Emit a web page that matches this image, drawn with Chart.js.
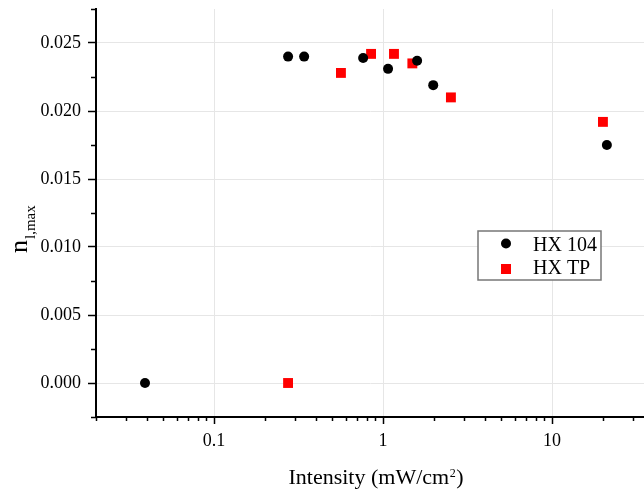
<!DOCTYPE html>
<html><head><meta charset="utf-8">
<script src="https://cdn.jsdelivr.net/npm/chart.js@4"></script>
<style>html,body{margin:0;padding:0;background:#fff;overflow:hidden}#wrap{width:644px;height:489px;position:relative}</style>
</head><body><div id="wrap"><canvas id="c" width="644" height="489"></canvas></div>
<script>
// ---- data ----
const seriesNames = ['HX 104', 'HX TP'];
const hx104X = [0.039, 0.274, 0.341, 0.762, 1.07, 1.59, 1.98, 21.1];
const hx104Y = [0.0000, 0.0240, 0.0240, 0.0239, 0.0231, 0.0237, 0.0219, 0.0175];
const hxtpX = [0.274, 0.563, 0.849, 1.16, 1.49, 2.52, 20.0];
const hxtpY = [0.0000, 0.0228, 0.0242, 0.0242, 0.0235, 0.0210, 0.0192];
const xTickLabels = ['0.1', '1', '10'];
const yTickLabels = ['0.000', '0.005', '0.010', '0.015', '0.020', '0.025'];
const xTitle = ['Intensity (mW/cm', '2', ')'];
const yTitle = ['n', 'l,max'];

const FONT = 'Liberation Serif';
const GRID = '#e6e6e6';

function isXMajor(v) { return xTickLabels.some(l => Math.abs(parseFloat(l) - v) < 1e-9); }
function yLabelFor(v) { return yTickLabels.find(l => Math.abs(parseFloat(l) - v) < 1e-9); }

const toPts = (xs, ys) => xs.map((x, i) => ({ x: x, y: ys[i] }));

const extras = {
  id: 'extras',
  afterDraw(chart) {
    const ctx = chart.ctx;
    const xs = chart.scales.x, ys = chart.scales.y;
    ctx.save();
    // minor tick marks
    ctx.strokeStyle = '#000';
    ctx.lineWidth = 1.5;
    xs.ticks.forEach(t => {
      if (isXMajor(t.value)) return;
      const px = Math.round(xs.getPixelForValue(t.value)) + 0.5;
      ctx.beginPath(); ctx.moveTo(px, xs.top); ctx.lineTo(px, xs.top + 4); ctx.stroke();
    });
    ys.ticks.forEach(t => {
      if (yLabelFor(t.value)) return;
      const py = Math.round(ys.getPixelForValue(t.value)) + 0.5;
      ctx.beginPath(); ctx.moveTo(ys.right, py); ctx.lineTo(ys.right - 5, py); ctx.stroke();
    });
    // legend
    const lx = 478, ly = 231, lw = 123, lh = 49;
    ctx.fillStyle = '#fff';
    ctx.fillRect(lx, ly, lw, lh);
    ctx.strokeStyle = '#777';
    ctx.lineWidth = 1.5;
    ctx.strokeRect(lx, ly, lw, lh);
    ctx.fillStyle = '#000';
    ctx.beginPath(); ctx.arc(506, 243.5, 5, 0, Math.PI * 2); ctx.fill();
    ctx.fillStyle = '#ff0000';
    ctx.fillRect(501, 264, 10, 10);
    ctx.fillStyle = '#000';
    ctx.font = '20px "' + FONT + '"';
    ctx.textAlign = 'left';
    ctx.textBaseline = 'alphabetic';
    ctx.fillText(seriesNames[0], 533, 251);
    ctx.fillText(seriesNames[1], 533, 274);
    // x title
    ctx.font = '22px "' + FONT + '"';
    const w0 = ctx.measureText(xTitle[0]).width;
    ctx.font = '12px "' + FONT + '"';
    const w1 = ctx.measureText(xTitle[1]).width;
    ctx.font = '22px "' + FONT + '"';
    const w2 = ctx.measureText(xTitle[2]).width;
    const tot = w0 + w1 + w2;
    let sx = 375.5 - tot / 2;
    const by = 484;
    ctx.fillText(xTitle[0], sx, by);
    ctx.font = '12px "' + FONT + '"';
    ctx.fillText(xTitle[1], sx + w0 + 0.5, by - 7);
    ctx.font = '22px "' + FONT + '"';
    ctx.fillText(xTitle[2], sx + w0 + w1 + 1, by);
    // y title
    ctx.translate(27, 253);
    ctx.rotate(-Math.PI / 2);
    ctx.font = '26px "' + FONT + '"';
    ctx.fillText(yTitle[0], 0, 0);
    const nw = ctx.measureText(yTitle[0]).width;
    ctx.font = '15px "' + FONT + '"';
    ctx.fillText(yTitle[1], nw + 1, 8);
    ctx.restore();
  }
};

new Chart(document.getElementById('c'), {
  type: 'scatter',
  data: {
    datasets: [
      { label: seriesNames[0], data: toPts(hx104X, hx104Y), pointStyle: 'circle', pointRadius: 5, pointHoverRadius: 5,
        backgroundColor: '#000', borderColor: '#000', borderWidth: 0 },
      { label: seriesNames[1], data: toPts(hxtpX, hxtpY), pointStyle: 'rect', pointRadius: 7, pointHoverRadius: 7,
        backgroundColor: '#ff0000', borderColor: '#ff0000', borderWidth: 0 }
    ]
  },
  options: {
    responsive: false,
    devicePixelRatio: 1,
    animation: false,
    events: [],
    clip: false,
    layout: { autoPadding: false, padding: { top: 9, left: 0, right: 0, bottom: 0 } },
    plugins: { legend: { display: false }, tooltip: { enabled: false } },
    scales: {
      x: {
        type: 'logarithmic',
        min: 0.02, max: 35,
        afterBuildTicks(scale) {
          const t = [];
          [0.01, 0.1, 1, 10].forEach(d => {
            for (let k = 1; k <= 9; k++) {
              const v = parseFloat((k * d).toPrecision(6));
              if (v >= scale.min - 1e-12 && v <= scale.max) t.push({ value: v });
            }
          });
          scale.ticks = t;
        },
        afterFit(scale) { scale.height = 72; scale.paddingLeft = 0; scale.paddingRight = 0; },
        ticks: {
          autoSkip: false, maxRotation: 0, padding: 6, color: '#000',
          font: { family: FONT, size: 18 },
          callback(v) { const l = xTickLabels.find(s => Math.abs(parseFloat(s) - v) < 1e-9); return l || ''; }
        },
        grid: {
          color: c => (c.tick && isXMajor(c.tick.value)) ? GRID : 'rgba(0,0,0,0)',
          tickColor: c => (c.tick && isXMajor(c.tick.value)) ? '#000' : 'rgba(0,0,0,0)',
          tickLength: 7, tickWidth: 1.5, lineWidth: 1
        },
        border: { display: true, color: '#000', width: 2 }
      },
      y: {
        type: 'linear',
        min: -0.0025, max: 0.0275,
        afterBuildTicks(scale) {
          const t = [];
          for (let i = -1; i <= 11; i++) t.push({ value: Math.round(i * 25) / 10000 });
          scale.ticks = t;
        },
        afterFit(scale) { scale.width = 96; scale.paddingTop = 0; scale.paddingBottom = 0; },
        ticks: {
          autoSkip: false, padding: 7, color: '#000',
          font: { family: FONT, size: 18 },
          callback(v) { return yLabelFor(v) || ''; }
        },
        grid: {
          color: c => (c.tick && yLabelFor(c.tick.value)) ? GRID : 'rgba(0,0,0,0)',
          tickColor: c => (c.tick && yLabelFor(c.tick.value)) ? '#000' : 'rgba(0,0,0,0)',
          tickLength: 8, tickWidth: 1.5, lineWidth: 1
        },
        border: { display: true, color: '#000', width: 2 }
      }
    }
  },
  plugins: [extras]
});
</script>
</body></html>
